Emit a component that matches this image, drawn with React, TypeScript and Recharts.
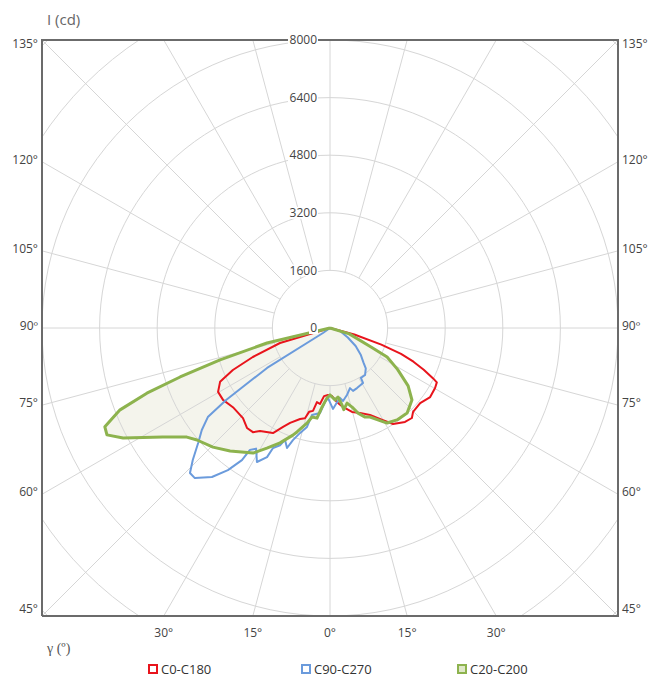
import React from 'react';
import { ScatterChart, Scatter, XAxis, YAxis } from 'recharts';

const FONT = '"Open Sans", "Noto Sans", sans-serif';
const LIMIT = 8000;

const radialTicks = [0, 1600, 3200, 4800, 6400, 8000];
const gridRadii = [1600, 3200, 4800, 6400, 8000, 9600, 11200];
const spokeAngles = [0, 15, 30, 45, 60, 75, 90, 105, 120, 135, 150, 165, 180, 195, 210, 225, 240, 255, 270, 285, 300, 315, 330, 345];
const spokeInner = 1600;
const spokeOuter = 12000;
const sideAngles = [45, 60, 75, 90, 105, 120, 135];
const bottomAngles = [-30, -15, 0, 15, 30];
const frameCorners = [
  { x: -LIMIT, y: -LIMIT },
  { x: -LIMIT, y: LIMIT },
  { x: LIMIT, y: LIMIT },
  { x: LIMIT, y: -LIMIT },
  { x: -LIMIT, y: -LIMIT },
];

// C0-C180 (gamma in degrees, negative = left half; intensity in cd)
const c0Gamma = [-90, -73.3, -69.4, -66.6, -63.9, -60.3, -56.1, -50.8, -44, -39.7, -36.5, -34.2, -28.5, -25.4, -22.8, -18.2, -15.5, -14, -11.6, -10, -7.5, -5, -1.7, 1.7, 5.4, 9.3, 14.7, 19.4, 24.7, 29.9, 33.3, 38.6, 42.3, 44.7, 50.2, 55.4, 60.3, 63, 64, 66, 68, 70, 72, 75, 90];
const c0Intensity = [0, 1450, 2290, 2940, 3400, 3580, 3580, 3480, 3480, 3610, 3600, 3460, 3320, 3040, 2860, 2660, 2600, 2400, 2350, 2090, 2130, 1900, 1860, 1890, 2070, 2220, 2410, 2500, 2660, 2950, 3190, 3340, 3380, 3280, 3260, 3380, 3360, 3330, 3180, 2850, 2500, 2100, 1500, 700, 0];

// C90-C270
const c90Gamma = [-90, -54.5, -57.6, -55.3, -53.9, -51.5, -48.9, -46.1, -44, -42, -38.4, -35.7, -33.7, -33.3, -31.5, -28.6, -26, -25.4, -23.1, -21.9, -19.7, -18.3, -15.9, -13.1, -11.7, -6.7, -3.9, -1.6, 2.1, 4.5, 8.1, 10.1, 14.2, 18.4, 20.1, 24.2, 31, 31.8, 36.7, 41.5, 44, 49, 55, 62, 73, 90];
const c90Intensity = [0, 240, 2070, 3510, 4200, 4550, 4860, 5290, 5600, 5610, 5280, 4860, 4410, 4050, 3930, 4240, 3990, 3690, 3540, 3350, 3540, 3280, 3030, 2820, 2470, 2380, 2060, 1950, 2250, 2120, 1960, 2060, 1920, 1760, 1860, 1830, 1780, 1630, 1630, 1500, 1340, 1130, 870, 560, 300, 0];

// C20-C200
const c20Gamma = [-90, -76.6, -73.8, -71.9, -70.4, -68.7, -66.3, -64.4, -62, -56.9, -52.7, -49.9, -44.5, -39.1, -31.6, -27.7, -23.5, -19.1, -17.6, -13.6, -11.4, -8.2, -5.8, -2.5, 0, 4, 6.6, 8.9, 9.6, 12.8, 15.6, 18.2, 21.5, 24.2, 31, 36.1, 42.2, 48.7, 53.5, 58.5, 63, 65, 73, 90];
const c20Intensity = [0, 1800, 3180, 4380, 5400, 6260, 6830, 6870, 6510, 5540, 5000, 4830, 4640, 4400, 4080, 3770, 3480, 3150, 3030, 2720, 2520, 2530, 2210, 1950, 1860, 2000, 1930, 2170, 2300, 2140, 2280, 2490, 2660, 2710, 3080, 3160, 3190, 3030, 2700, 2200, 1780, 1270, 560, 0];

const seriesNames = ['C0-C180', 'C90-C270', 'C20-C200'];
const seriesColors = ['#e8141c', '#6b9bdc', '#8db34e'];
const seriesWidths = [2, 2, 3];
const FILL = '#f4f4ec';
const GRID = '#d6d6d6';
const BORDER = '#6b6b6b';

const rad = (d: number) => (d * Math.PI) / 180;
const toXY = (g: number, i: number) => ({ x: i * Math.sin(rad(g)), y: -i * Math.cos(rad(g)) });
const curve = (gs: number[], is: number[]) => gs.map((g, k) => toXY(g, is[k]));

const curves = [curve(c0Gamma, c0Intensity), curve(c90Gamma, c90Intensity), curve(c20Gamma, c20Intensity)];

const circlePts = (r: number) => Array.from({ length: 121 }, (_, k) => toXY(k * 3, r));
const spokePts = (a: number) => [toXY(a, spokeInner), toXY(a, spokeOuter)];

const sideTickValues = sideAngles.map((g) => -LIMIT / Math.tan(rad(g)));
const bottomTickValues = bottomAngles.map((g) => LIMIT * Math.tan(rad(g)));
const radialData = radialTicks.map((v) => ({ x: 0, y: v, label: String(v) }));

const angleText = (g: number) => (g === 90 ? '90º' : `${g}°`);

const noDot = () => <g />;

const SideTick = (props: any) => {
  const { x, y, payload, left } = props;
  const g = Math.round(90 + (Math.atan(payload.value / LIMIT) * 180) / Math.PI);
  const cy = Math.min(Math.max(y - 2, 44), 609);
  return (
    <text x={x} y={cy} dy="0.35em" textAnchor={left ? 'end' : 'start'} fontSize={12} fill="#444" fontFamily={FONT}>
      {angleText(g)}
    </text>
  );
};

const BottomTick = (props: any) => {
  const { x, y, payload } = props;
  const g = Math.abs(Math.round((Math.atan(payload.value / LIMIT) * 180) / Math.PI));
  return (
    <text x={x} y={y} dy="0.71em" textAnchor="middle" fontSize={12} fill="#444" fontFamily={FONT}>
      {angleText(g)}
    </text>
  );
};

const RadialLabel = (props: any) => {
  const { cx, cy, payload } = props;
  const text = String(payload.label);
  const w = text.length * 7 + 2;
  const right = cx - 13;
  return (
    <g>
      <rect x={right - w + 1} y={cy - 6} width={w} height={12} fill="#fff" />
      <text x={right} y={cy} dy="0.35em" textAnchor="end" fontSize={12} fill="#444" fontFamily={FONT}>
        {text}
      </text>
    </g>
  );
};

const legendLeft = [148, 301, 457];

export default function App() {
  return (
    <div style={{ position: 'absolute', left: 0, top: 0, width: 650, height: 680, background: '#fff' }}>
      <ScatterChart width={650} height={680} margin={{ top: 40, right: 2, bottom: 30, left: 2 }}>
        <XAxis
          xAxisId="b"
          type="number"
          dataKey="x"
          domain={[-LIMIT, LIMIT]}
          allowDataOverflow
          ticks={bottomTickValues}
          interval={0}
          tickLine={false}
          tickSize={0}
          tickMargin={12}
          axisLine={false}
          tick={(p: any) => <BottomTick {...p} />}
          height={34}
        />
        <XAxis
          xAxisId="t"
          orientation="top"
          type="number"
          dataKey="x"
          domain={[-LIMIT, LIMIT]}
          tick={false}
          tickLine={false}
          axisLine={false}
          height={0}
        />
        <YAxis
          yAxisId="l"
          orientation="left"
          type="number"
          dataKey="y"
          domain={[-LIMIT, LIMIT]}
          allowDataOverflow
          ticks={sideTickValues}
          interval={0}
          tickLine={false}
          tickSize={0}
          tickMargin={4}
          axisLine={false}
          tick={(p: any) => <SideTick {...p} left />}
          width={40}
        />
        <YAxis
          yAxisId="r"
          orientation="right"
          type="number"
          dataKey="y"
          domain={[-LIMIT, LIMIT]}
          ticks={sideTickValues}
          interval={0}
          tickLine={false}
          tickSize={0}
          tickMargin={4}
          axisLine={false}
          tick={(p: any) => <SideTick {...p} />}
          width={30}
        />

        <Scatter
          xAxisId="b"
          yAxisId="l"
          data={curves[2]}
          line={{ stroke: 'none', fill: FILL }}
          lineType="joint"
          shape={noDot}
          isAnimationActive={false}
          legendType="none"
        />
        {gridRadii.map((r) => (
          <Scatter
            key={'c' + r}
            xAxisId="b"
            yAxisId="l"
            data={circlePts(r)}
            line={{ stroke: GRID, strokeWidth: 1, fill: 'none' }}
            lineType="joint"
            shape={noDot}
            isAnimationActive={false}
            legendType="none"
          />
        ))}
        {spokeAngles.map((a) => (
          <Scatter
            key={'s' + a}
            xAxisId="b"
            yAxisId="l"
            data={spokePts(a)}
            line={{ stroke: GRID, strokeWidth: 1, fill: 'none' }}
            lineType="joint"
            shape={noDot}
            isAnimationActive={false}
            legendType="none"
          />
        ))}
        {curves.map((pts, i) => (
          <Scatter
            key={seriesNames[i]}
            name={seriesNames[i]}
            xAxisId="b"
            yAxisId="l"
            data={pts}
            line={{ stroke: seriesColors[i], strokeWidth: seriesWidths[i], fill: 'none', strokeLinejoin: 'round' }}
            lineType="joint"
            shape={noDot}
            isAnimationActive={false}
          />
        ))}
        <Scatter
          xAxisId="t"
          yAxisId="r"
          data={frameCorners}
          line={{ stroke: BORDER, strokeWidth: 2, fill: 'none', strokeLinejoin: 'miter' }}
          lineType="joint"
          shape={noDot}
          isAnimationActive={false}
          legendType="none"
        />
        <Scatter
          xAxisId="t"
          yAxisId="r"
          data={radialData}
          shape={(p: any) => <RadialLabel {...p} />}
          isAnimationActive={false}
          legendType="none"
        />
      </ScatterChart>

      <div style={{ position: 'absolute', left: 47, top: 9, fontSize: 15, color: '#666', fontFamily: FONT }}>I (cd)</div>
      <div style={{ position: 'absolute', left: 47, top: 641, fontSize: 14, color: '#555', fontFamily: '"Liberation Serif", serif' }}>γ (º)</div>

      {seriesNames.map((n, i) => (
        <div
          key={n}
          style={{
            position: 'absolute',
            left: legendLeft[i],
            top: 661,
            display: 'flex',
            alignItems: 'center',
            fontSize: 13,
            lineHeight: '16px',
            color: '#333',
            fontFamily: FONT,
          }}
        >
          <span
            style={{
              display: 'inline-block',
              width: 10,
              height: 10,
              boxSizing: 'border-box',
              border: `2px solid ${seriesColors[i]}`,
              background: i === 2 ? '#dfe8c8' : '#fff',
              marginRight: 3,
            }}
          />
          {n}
        </div>
      ))}
    </div>
  );
}
